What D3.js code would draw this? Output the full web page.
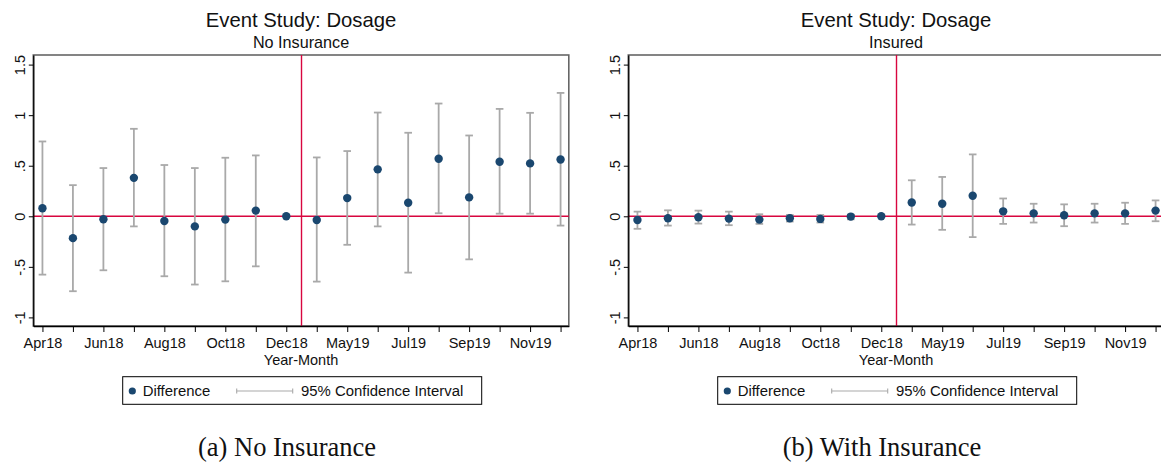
<!DOCTYPE html>
<html>
<head>
<meta charset="utf-8">
<script src="https://cdn.jsdelivr.net/npm/d3@7"></script>
<style>
  body { margin: 0; background: #fff; }
  text { font-family: "Liberation Sans", Arial, sans-serif; }
</style>
</head>
<body>
<div id="chart"></div>
<script>
// months on the x axis (Jan19-Mar19 are not in the data)
var months = ["Apr18","May18","Jun18","Jul18","Aug18","Sep18","Oct18","Nov18","Dec18",
              "Apr19","May19","Jun19","Jul19","Aug19","Sep19","Oct19","Nov19","Dec19"];
var labelledMonths = ["Apr18","Jun18","Aug18","Oct18","Dec18","May19","Jul19","Sep19","Nov19"];
var yTicks = [-1, -0.5, 0, 0.5, 1, 1.5];
var yTickLabels = ["-1", "-.5", "0", ".5", "1", "1.5"];

// panel (a): no insurance
var noInsDiff = [0.079, -0.216, -0.030, 0.380, -0.046, -0.100, -0.033, 0.056, 0.000,
                 -0.036, 0.180, 0.464, 0.134, 0.569, 0.187, 0.539, 0.523, 0.562];
var noInsLow  = [-0.577, -0.741, -0.534, -0.100, -0.593, -0.675, -0.643, -0.495, 0.000,
                 -0.646, -0.282, -0.100, -0.557, 0.030, -0.426, 0.026, 0.026, -0.092];
var noInsHigh = [0.740, 0.308, 0.477, 0.865, 0.507, 0.477, 0.579, 0.602, 0.000,
                 0.582, 0.645, 1.026, 0.826, 1.115, 0.799, 1.062, 1.023, 1.220];

// panel (b): insured
var insDiff = [-0.036, -0.020, -0.010, -0.023, -0.033, -0.020, -0.026, -0.003, 0.000,
               0.137, 0.124, 0.203, 0.049, 0.029, 0.010, 0.029, 0.029, 0.056];
var insLow  = [-0.124, -0.092, -0.072, -0.088, -0.075, -0.052, -0.062, -0.030, 0.000,
               -0.082, -0.134, -0.206, -0.075, -0.062, -0.098, -0.062, -0.075, -0.049];
var insHigh = [0.046, 0.059, 0.056, 0.046, 0.020, 0.013, 0.013, 0.016, 0.000,
               0.356, 0.389, 0.612, 0.176, 0.124, 0.118, 0.124, 0.134, 0.157];

var treatmentAt = 8.5; // between Dec18 and Apr19

var navy = "#1a476f",
    ciGray = "#a9a9a9",
    red = "#d8063f";

var svg = d3.select("#chart")
  .append("svg")
    .attr("width", 1161)
    .attr("height", 464);

// set the dimensions of each plot region
var margin = {top: 55, left: 33.3},
    width = 535.5,
    height = 271;

var x = d3.scaleLinear()
  .domain([-0.3, 17.27])
  .range([0, width]);

var y = d3.scaleLinear()
  .domain([-1.085, 1.595])
  .range([height, 0]);

function drawPanel(offsetX, subtitle, caption, diff, low, high) {
  var panel = svg.append("g")
    .attr("transform", "translate(" + offsetX + ",0)");

  var cx = margin.left + width / 2;

  panel.append("text")
    .attr("x", cx)
    .attr("y", 26.5)
    .attr("text-anchor", "middle")
    .style("font-size", "20.3px")
    .attr("fill", "#111")
    .text("Event Study: Dosage");

  panel.append("text")
    .attr("x", cx)
    .attr("y", 48.3)
    .attr("text-anchor", "middle")
    .style("font-size", "16.2px")
    .attr("fill", "#111")
    .text(subtitle);

  var g = panel.append("g")
    .attr("transform", "translate(" + margin.left + "," + margin.top + ")");

  // plot region outline
  g.append("rect")
    .attr("width", width)
    .attr("height", height)
    .attr("fill", "none")
    .attr("stroke", "#666")
    .attr("stroke-width", 1.6);

  // reference lines
  g.append("line")
    .attr("x1", 0)
    .attr("x2", width)
    .attr("y1", y(0))
    .attr("y2", y(0))
    .attr("stroke", red)
    .attr("stroke-width", 1.4);

  g.append("line")
    .attr("x1", x(treatmentAt))
    .attr("x2", x(treatmentAt))
    .attr("y1", 0)
    .attr("y2", height)
    .attr("stroke", red)
    .attr("stroke-width", 1.4);

  var rows = months.map(function(m, i) {
    return {i: i, month: m, diff: diff[i], low: low[i], high: high[i]};
  });

  // confidence intervals
  var ci = g.append("g")
    .selectAll("g")
    .data(rows.filter(function(d) { return d.high !== d.low; }))
    .enter()
    .append("g")
    .attr("stroke", ciGray)
    .attr("stroke-width", 1.8);

  ci.append("line")
    .attr("x1", function(d) { return x(d.i); })
    .attr("x2", function(d) { return x(d.i); })
    .attr("y1", function(d) { return y(d.low); })
    .attr("y2", function(d) { return y(d.high); });

  ci.append("line")
    .attr("x1", function(d) { return x(d.i) - 3.8; })
    .attr("x2", function(d) { return x(d.i) + 3.8; })
    .attr("y1", function(d) { return y(d.low); })
    .attr("y2", function(d) { return y(d.low); });

  ci.append("line")
    .attr("x1", function(d) { return x(d.i) - 3.8; })
    .attr("x2", function(d) { return x(d.i) + 3.8; })
    .attr("y1", function(d) { return y(d.high); })
    .attr("y2", function(d) { return y(d.high); });

  // point estimates
  g.append("g")
    .selectAll("circle")
    .data(rows)
    .enter()
    .append("circle")
    .attr("cx", function(d) { return x(d.i); })
    .attr("cy", function(d) { return y(d.diff); })
    .attr("r", 4.2)
    .attr("fill", navy);

  // Y axis
  var yAxis = g.append("g")
    .call(d3.axisLeft(y)
      .tickValues(yTicks)
      .tickSize(4.5)
      .tickSizeOuter(0)
      .tickFormat(function(d, i) { return yTickLabels[i]; }));

  yAxis.select(".domain").attr("stroke", "#000").attr("stroke-width", 1.3);
  yAxis.selectAll(".tick line").attr("stroke", "#000");
  yAxis.selectAll(".tick text")
    .attr("x", null)
    .attr("dy", null)
    .attr("text-anchor", "middle")
    .attr("transform", "translate(-8.3,0) rotate(-90)")
    .style("font-size", "14.5px")
    .attr("fill", "#111");

  // X axis
  var xAxis = g.append("g")
    .attr("transform", "translate(0," + height + ")")
    .call(d3.axisBottom(x)
      .tickValues(d3.range(months.length))
      .tickSize(6)
      .tickSizeOuter(0)
      .tickFormat(function(d) {
        return labelledMonths.indexOf(months[d]) >= 0 ? months[d] : "";
      }));

  xAxis.select(".domain").attr("stroke", "#000").attr("stroke-width", 1.3);
  xAxis.selectAll(".tick line").attr("stroke", "#000");
  xAxis.selectAll(".tick text")
    .attr("y", 21.7)
    .attr("dy", null)
    .style("font-size", "14.5px")
    .attr("fill", "#111");

  panel.append("text")
    .attr("x", cx)
    .attr("y", 365)
    .attr("text-anchor", "middle")
    .style("font-size", "14.5px")
    .attr("fill", "#111")
    .text("Year-Month");

  // legend
  var lg = panel.append("g");

  lg.append("rect")
    .attr("x", 122.7)
    .attr("y", 376.7)
    .attr("width", 359)
    .attr("height", 27.6)
    .attr("fill", "#fff")
    .attr("stroke", "#000")
    .attr("stroke-width", 1);

  lg.append("circle")
    .attr("cx", 132.3)
    .attr("cy", 391)
    .attr("r", 3.6)
    .attr("fill", navy);

  lg.append("text")
    .attr("x", 142.7)
    .attr("y", 395.8)
    .style("font-size", "14.9px")
    .attr("fill", "#111")
    .text("Difference");

  var key = lg.append("g")
    .attr("stroke", ciGray)
    .attr("stroke-width", 1.1);

  key.append("line")
    .attr("x1", 236.7).attr("x2", 292.7)
    .attr("y1", 391).attr("y2", 391);
  key.append("line")
    .attr("x1", 236.7).attr("x2", 236.7)
    .attr("y1", 388.5).attr("y2", 393.5);
  key.append("line")
    .attr("x1", 292.7).attr("x2", 292.7)
    .attr("y1", 388.5).attr("y2", 393.5);

  lg.append("text")
    .attr("x", 301)
    .attr("y", 395.8)
    .style("font-size", "14.9px")
    .attr("fill", "#111")
    .text("95% Confidence Interval");

  // subfigure caption
  panel.append("text")
    .attr("x", 287)
    .attr("y", 455.7)
    .attr("text-anchor", "middle")
    .style("font-family", "'Liberation Serif', 'Times New Roman', serif")
    .style("font-size", "26.5px")
    .attr("fill", "#111")
    .text(caption);
}

drawPanel(0, "No Insurance", "(a) No Insurance", noInsDiff, noInsLow, noInsHigh);
drawPanel(595, "Insured", "(b) With Insurance", insDiff, insLow, insHigh);
</script>
</body>
</html>
